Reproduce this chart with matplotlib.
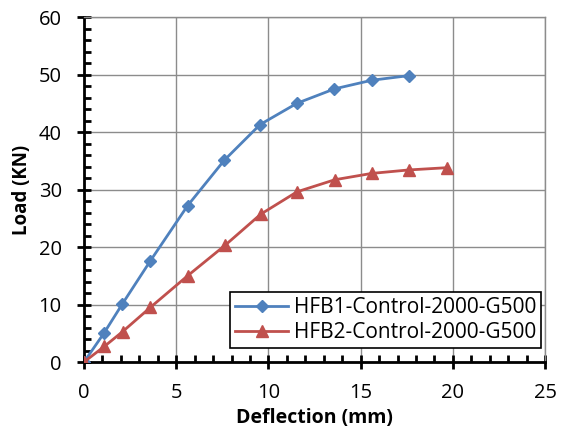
"""Load-deflection curves for the HFB control beams."""

import matplotlib

matplotlib.use("Agg")
import matplotlib.pyplot as plt
from matplotlib.ticker import MultipleLocator

plt.rcParams["font.family"] = ["Open Sans", "DejaVu Sans"]

# deflection (mm) and load (KN)
hfb1_deflection = [0, 1.08, 2.08, 3.6, 5.62, 7.61, 9.55, 11.55, 13.58, 15.6, 17.6]
hfb1_load = [0, 5.0, 10.1, 17.6, 27.2, 35.1, 41.3, 45.0, 47.5, 49.0, 49.8]

hfb2_deflection = [0, 1.1, 2.1, 3.6, 5.62, 7.65, 9.58, 11.55, 13.6, 15.6, 17.6, 19.7]
hfb2_load = [0, 2.7, 5.3, 9.5, 15.0, 20.3, 25.7, 29.6, 31.7, 32.8, 33.4, 33.8]

labels = ["HFB1-Control-2000-G500", "HFB2-Control-2000-G500"]

fig = plt.figure(figsize=(5.69, 4.36), dpi=100)
ax = fig.add_axes([0.1476, 0.1697, 0.8104, 0.7913])

ax.plot(hfb1_deflection, hfb1_load, color="#4F81BD", marker="D", markersize=6,
        linewidth=2, label=labels[0], zorder=3)
ax.plot(hfb2_deflection, hfb2_load, color="#C0504D", marker="^", markersize=8,
        linewidth=2, label=labels[1], zorder=3)

ax.set_xlim(0, 25)
ax.set_ylim(0, 60)
ax.xaxis.set_major_locator(MultipleLocator(5))
ax.xaxis.set_minor_locator(MultipleLocator(1))
ax.yaxis.set_major_locator(MultipleLocator(10))
ax.yaxis.set_minor_locator(MultipleLocator(2))

ax.grid(True, which="major", color="#8c8c8c", linewidth=1)
ax.set_axisbelow(True)

for side in ["top", "right"]:
    ax.spines[side].set_color("#8c8c8c")
    ax.spines[side].set_linewidth(1)
for side in ["left", "bottom"]:
    ax.spines[side].set_color("black")
    ax.spines[side].set_linewidth(2)

ax.tick_params(which="major", direction="inout", length=10, width=2,
               labelsize=14.5)
ax.tick_params(which="minor", direction="in", length=5, width=2)
ax.tick_params(axis="x", pad=10)
ax.tick_params(axis="y", pad=11)

ax.set_xlabel("Deflection (mm)", fontsize=14, fontweight="bold", va="center")
ax.set_ylabel("Load (KN)", fontsize=13.5, fontweight="bold", va="center")
ax.xaxis.set_label_coords(0.5, -0.162)
ax.yaxis.set_label_coords(-0.135, 0.5)

leg = ax.legend(loc="lower right", bbox_to_anchor=(0.992, 0.04), fontsize=15,
                frameon=True, fancybox=False, framealpha=1, edgecolor="black",
                borderpad=0.25, labelspacing=0.2, handlelength=2.5,
                handletextpad=0.3, borderaxespad=0)
leg.get_frame().set_linewidth(1.2)

fig.savefig("out.png", dpi=100)
